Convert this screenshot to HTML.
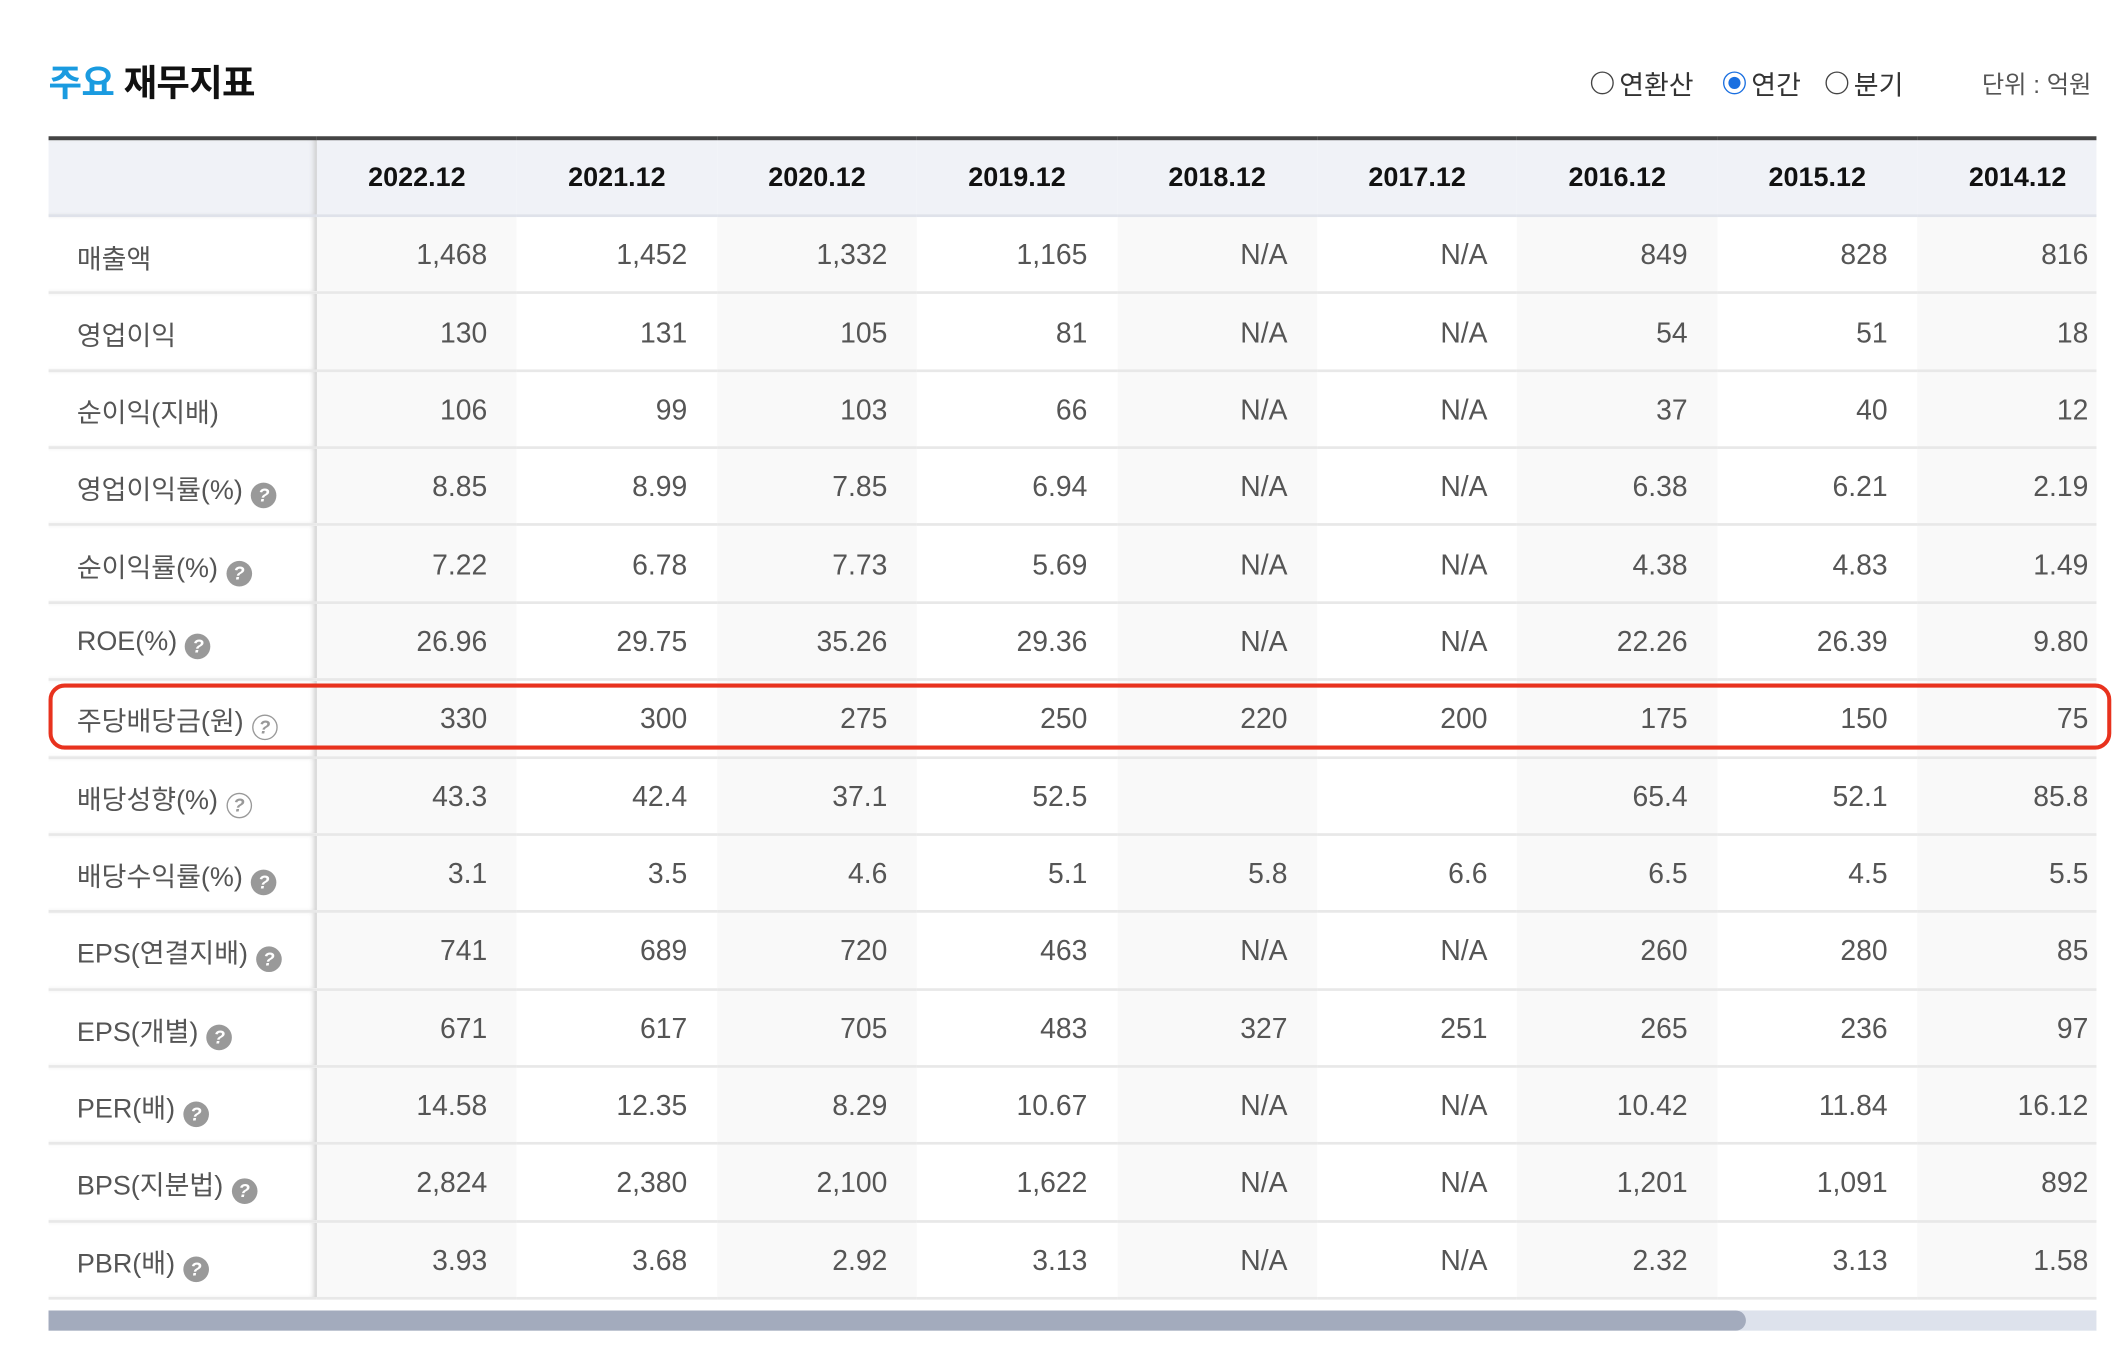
<!DOCTYPE html>
<html><head><meta charset="utf-8"><style>
html,body{margin:0;padding:0;background:#fff;overflow:hidden;width:2114px;height:1354px}
#w{position:absolute;left:0;top:0;width:1568px;height:1005px;transform:scale(1.3482);transform-origin:0 0;font-family:"Liberation Sans","Noto Sans CJK KR",sans-serif}
.t{position:absolute;left:36px;top:40px;font-size:27px;font-weight:bold;color:#111;letter-spacing:-0.5px}
.t span{color:#1a9be0}
.r{position:absolute;top:47px;font-size:20px;color:#333;display:flex;align-items:center}
.c{width:17px;height:17px;border:1.5px solid #444;border-radius:50%;box-sizing:border-box;margin-right:4px;position:relative}
.c.on{border-color:#1a6fe0}
.c.on:after{content:"";position:absolute;left:2.5px;top:2.5px;width:9px;height:9px;border-radius:50%;background:#1a6fe0}
.u{position:absolute;left:1470px;top:49px;font-size:18px;color:#555}
.box{position:absolute;left:36px;top:101px;width:1519px;height:870px;overflow:hidden}
table{width:1535px;border-collapse:collapse;border-top:3px solid #444;table-layout:fixed}
td,th{border-bottom:2px solid #e8e8e8;padding:0;font-size:21px;color:#555}
th{background:#f0f2f7;font-weight:bold;color:#111;font-size:20px;text-align:center;height:53px;border-bottom:2px solid #dfe2ea;padding-top:2px}
td{text-align:right;padding-right:22px;padding-top:3px;height:52.36px}
td:first-child,th:first-child{text-align:left;padding-left:21px;padding-right:0;box-shadow:inset -4px 0 4px -2px #ccc;font-size:20px}
th:first-child{padding-left:0}
tr td:nth-child(2n){background:#f9f9f9}
.q{display:inline-block;width:19px;height:19px;border-radius:50%;background:#999;color:#fff;font-size:14px;font-weight:bold;text-align:center;line-height:19px;vertical-align:-2px;margin-left:6px}
.q.o{background:#fff;border:1.5px solid #999;color:#999;box-sizing:border-box;line-height:16px}
.red{position:absolute;left:36px;top:507px;width:1530px;height:49px;border:3px solid #e8321e;border-radius:12px;box-sizing:border-box}
.tr{position:absolute;left:36px;top:972px;width:1519px;height:15px;background:#dde2ec}
.th{position:absolute;left:36px;top:972px;width:1259px;height:15px;background:#a3abbd;border-radius:0 8px 8px 0}
</style></head><body><div id="w">
<div class="t"><span>주요</span> 재무지표</div>
<div class="r" style="left:1180px"><i class="c"></i>연환산</div>
<div class="r" style="left:1278px"><i class="c on"></i>연간</div>
<div class="r" style="left:1354px"><i class="c"></i>분기</div>
<div class="u">단위 : 억원</div>
<div class="box">
<table>
<colgroup><col style="width:199px"><col style="width:148.4px"><col style="width:148.4px"><col style="width:148.4px"><col style="width:148.4px"><col style="width:148.4px"><col style="width:148.4px"><col style="width:148.4px"><col style="width:148.4px"><col style="width:148.8px"></colgroup>
<tr><th></th><th>2022.12</th><th>2021.12</th><th>2020.12</th><th>2019.12</th><th>2018.12</th><th>2017.12</th><th>2016.12</th><th>2015.12</th><th>2014.12</th></tr>
<tr><td>매출액</td><td>1,468</td><td>1,452</td><td>1,332</td><td>1,165</td><td>N/A</td><td>N/A</td><td>849</td><td>828</td><td>816</td></tr>
<tr><td>영업이익</td><td>130</td><td>131</td><td>105</td><td>81</td><td>N/A</td><td>N/A</td><td>54</td><td>51</td><td>18</td></tr>
<tr><td>순이익(지배)</td><td>106</td><td>99</td><td>103</td><td>66</td><td>N/A</td><td>N/A</td><td>37</td><td>40</td><td>12</td></tr>
<tr><td>영업이익률(%)<i class="q">?</i></td><td>8.85</td><td>8.99</td><td>7.85</td><td>6.94</td><td>N/A</td><td>N/A</td><td>6.38</td><td>6.21</td><td>2.19</td></tr>
<tr><td>순이익률(%)<i class="q">?</i></td><td>7.22</td><td>6.78</td><td>7.73</td><td>5.69</td><td>N/A</td><td>N/A</td><td>4.38</td><td>4.83</td><td>1.49</td></tr>
<tr><td>ROE(%)<i class="q">?</i></td><td>26.96</td><td>29.75</td><td>35.26</td><td>29.36</td><td>N/A</td><td>N/A</td><td>22.26</td><td>26.39</td><td>9.80</td></tr>
<tr><td>주당배당금(원)<i class="q o">?</i></td><td>330</td><td>300</td><td>275</td><td>250</td><td>220</td><td>200</td><td>175</td><td>150</td><td>75</td></tr>
<tr><td>배당성향(%)<i class="q o">?</i></td><td>43.3</td><td>42.4</td><td>37.1</td><td>52.5</td><td></td><td></td><td>65.4</td><td>52.1</td><td>85.8</td></tr>
<tr><td>배당수익률(%)<i class="q">?</i></td><td>3.1</td><td>3.5</td><td>4.6</td><td>5.1</td><td>5.8</td><td>6.6</td><td>6.5</td><td>4.5</td><td>5.5</td></tr>
<tr><td>EPS(연결지배)<i class="q">?</i></td><td>741</td><td>689</td><td>720</td><td>463</td><td>N/A</td><td>N/A</td><td>260</td><td>280</td><td>85</td></tr>
<tr><td>EPS(개별)<i class="q">?</i></td><td>671</td><td>617</td><td>705</td><td>483</td><td>327</td><td>251</td><td>265</td><td>236</td><td>97</td></tr>
<tr><td>PER(배)<i class="q">?</i></td><td>14.58</td><td>12.35</td><td>8.29</td><td>10.67</td><td>N/A</td><td>N/A</td><td>10.42</td><td>11.84</td><td>16.12</td></tr>
<tr><td>BPS(지분법)<i class="q">?</i></td><td>2,824</td><td>2,380</td><td>2,100</td><td>1,622</td><td>N/A</td><td>N/A</td><td>1,201</td><td>1,091</td><td>892</td></tr>
<tr><td>PBR(배)<i class="q">?</i></td><td>3.93</td><td>3.68</td><td>2.92</td><td>3.13</td><td>N/A</td><td>N/A</td><td>2.32</td><td>3.13</td><td>1.58</td></tr>
</table>
</div>
<div class="red"></div>
<div class="tr"></div><div class="th"></div>
</div></body></html>
